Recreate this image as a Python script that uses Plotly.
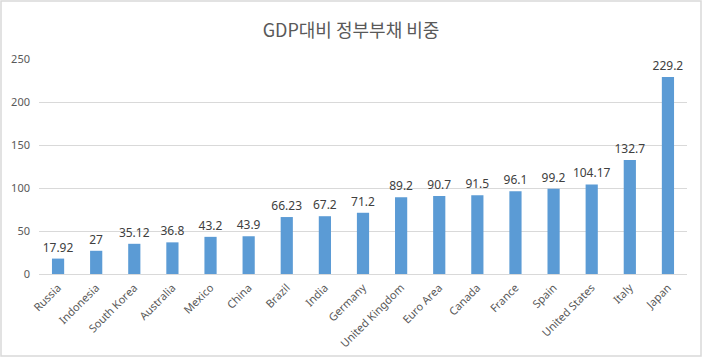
import plotly.graph_objects as go

countries = ["Russia", "Indonesia", "South Korea", "Australia", "Mexico", "China", "Brazil",
             "India", "Germany", "United Kingdom", "Euro Area", "Canada", "France", "Spain",
             "United States", "Italy", "Japan"]
values = [17.92, 27, 35.12, 36.8, 43.2, 43.9, 66.23, 67.2, 71.2, 89.2, 90.7, 91.5, 96.1, 99.2,
          104.17, 132.7, 229.2]
labels = ["17.92", "27", "35.12", "36.8", "43.2", "43.9", "66.23", "67.2", "71.2", "89.2",
          "90.7", "91.5", "96.1", "99.2", "104.17", "132.7", "229.2"]
title = "GDP대비 정부부채 비중"

fig = go.Figure(go.Bar(
    x=countries, y=values, text=labels, textposition="outside",
    textfont=dict(size=12, color="#404040", family="Noto Sans"),
    marker=dict(color="#5B9BD5", line=dict(width=0)),
    width=0.32, cliponaxis=False, constraintext="none",
))

fig.update_layout(
    width=702, height=357,
    margin=dict(l=39, r=15, t=59, b=83, autoexpand=False),
    paper_bgcolor="white", plot_bgcolor="white",
    title=dict(text=title, x=0.5, xanchor="center", y=0.915, yanchor="middle",
               font=dict(size=18, color="#595959", family="Noto Sans CJK KR")),
    showlegend=False,
    font=dict(family="Noto Sans", color="#595959"),
)
fig.update_xaxes(tickangle=-45, tickfont=dict(size=11, color="#595959"), automargin=False,
                 showline=True, linecolor="#d9d9d9", linewidth=1, ticks="", showgrid=False,
                 ticklabelstandoff=2)
fig.update_yaxes(range=[0, 250], dtick=50, tickfont=dict(size=11, color="#595959"),
                 automargin=False, ticklabelstandoff=8,
                 showgrid=True, gridcolor="#d9d9d9", gridwidth=1, zeroline=False,
                 ticks="", ticklen=0, showline=False)
fig.add_shape(type="rect", xref="paper", yref="paper",
              x0=(1 - 39) / 648, x1=(701 - 39) / 648,
              y0=(274 - 356) / 215, y1=(274 - 1) / 215,
              line=dict(color="#d9d9d9", width=1.5), layer="below")

fig.write_html("out.html", config={"displayModeBar": False},
               post_script="document.body.style.margin='0';document.body.style.overflow='hidden';")
